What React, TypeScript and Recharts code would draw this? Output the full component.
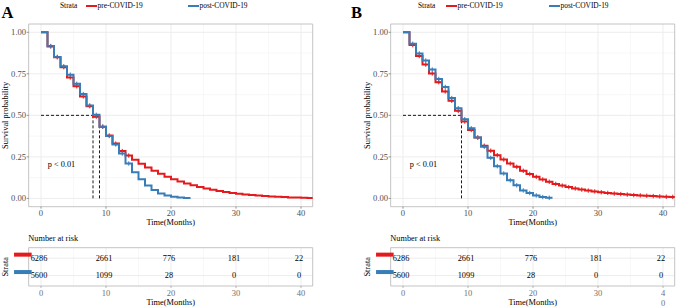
import React from 'react';
import {
  ComposedChart,
  Line,
  Scatter,
  XAxis,
  YAxis,
  CartesianGrid,
  ReferenceLine,
  ReferenceArea,
  ReferenceDot,
  Legend,
  Label,
} from 'recharts';

const FONT = '"Liberation Serif", "Times New Roman", serif';

// ---------- data ----------
const months = [0, 1, 2, 3, 4, 5, 6, 7, 8, 9, 10, 11, 12, 13, 14, 15, 16, 17, 18, 19, 20, 21, 22, 23, 24, 25, 26, 27, 28, 29, 30, 31, 32, 33, 34, 35, 36, 37, 38, 39, 40, 41, 42];

const preA = [1, 0.915, 0.85, 0.79, 0.728, 0.675, 0.614, 0.555, 0.492, 0.432, 0.378, 0.33, 0.285, 0.258, 0.232, 0.208, 0.186, 0.166, 0.148, 0.131, 0.116, 0.102, 0.09, 0.079, 0.069, 0.06, 0.052, 0.045, 0.039, 0.033, 0.028, 0.024, 0.02, 0.017, 0.014, 0.012, 0.01, 0.008, 0.006, 0.005, 0.004, 0.003, 0.003];
const postA = [1, 0.917, 0.852, 0.796, 0.745, 0.69, 0.628, 0.56, 0.503, 0.432, 0.376, 0.325, 0.27, 0.21, 0.158, 0.115, 0.078, 0.05, 0.03, 0.017, 0.01, 0.006, 0.003, 0.003];

const preB = [1, 0.923, 0.857, 0.806, 0.752, 0.7, 0.644, 0.588, 0.527, 0.463, 0.412, 0.366, 0.317, 0.287, 0.26, 0.234, 0.21, 0.19, 0.166, 0.147, 0.13, 0.114, 0.1, 0.087, 0.077, 0.068, 0.06, 0.053, 0.047, 0.042, 0.037, 0.033, 0.029, 0.026, 0.023, 0.02, 0.018, 0.016, 0.014, 0.012, 0.01, 0.009, 0.008];
const postB = [1, 0.931, 0.873, 0.83, 0.776, 0.719, 0.671, 0.604, 0.543, 0.477, 0.422, 0.366, 0.311, 0.244, 0.194, 0.15, 0.109, 0.079, 0.048, 0.032, 0.018, 0.008, 0.004, 0.004];

const censorMonthsA = [1, 2, 3, 4, 5, 6, 7, 8, 9, 10, 11, 12, 13];
const censorMonthsB = [1, 2, 3, 4, 5, 6, 7, 8, 9, 10, 11, 12, 13, 14, 15, 16, 17, 18, 19, 20, 21, 22, 23, 24, 25, 26, 27, 28, 29, 30, 31, 32, 33, 34, 35, 36, 37, 38, 39, 40, 41];

const riskTimes = [0, 10, 20, 30, 40];
const riskPre = [6286, 2661, 776, 181, 22];
const riskPost = [5600, 1099, 28, 0, 0];

const xTicks = [0, 10, 20, 30, 40];
const xMinor = [5, 15, 25, 35];
const yTicks = [0, 0.25, 0.5, 0.75, 1];
const yMinor = [0.125, 0.375, 0.625, 0.875];
const strataNames = ['pre-COVID-19', 'post-COVID-19'];
const strataColors = ['#E41A1C', '#377EB8'];
const pValueText = 'p < 0.01';
const pValueCoord = [3.15, 0.205];

// ---------- geometry ----------
const CHART_W = 320;
const PLOT_L = 28.65;
const PLOT_R = 312.7;
const X_DOMAIN: [number, number] = [-1.9, 41.8];
const Y_DOMAIN: [number, number] = [-0.05, 1.05];
const ROW_DOMAIN: [number, number] = [0.4, 2.6];

const GRID_MAJOR = '#EBEBEB';
const GRID_MINOR = '#F4F4F4';
const BORDER = '#BDBDBD';

function buildCurve(pre: number[], post: number[]) {
  return months
    .filter((_, i) => i < pre.length)
    .map((t, i) => ({ t, pre: pre[i], post: i < post.length ? post[i] : undefined }));
}

function buildCensor(arr: number[], times: number[]) {
  return times.filter((t) => t < arr.length - 1).map((t) => ({ t: t + 0.5, s: arr[t] }));
}

function median(arr: number[]) {
  const i = arr.findIndex((v) => v <= 0.5);
  return months[i];
}

function plusShape(color: string) {
  return (props: any) => {
    const { cx, cy } = props;
    if (cx == null || cy == null) return <g />;
    return (
      <path
        d={`M${cx - 2.2},${cy}H${cx + 2.2}M${cx},${cy - 2.2}V${cy + 2.2}`}
        stroke={color}
        strokeWidth={1}
        fill="none"
      />
    );
  };
}

function riskText(props: any) {
  const { cx, cy, payload } = props;
  if (cx == null || cy == null) return <g />;
  return (
    <text x={cx - 2} y={cy} textAnchor="middle" dominantBaseline="central" fontSize={8.3} fontFamily={FONT} fill="#000">
      {payload.n}
    </text>
  );
}

function strataBarTick(props: any) {
  const { x, y, payload } = props;
  const c = strataColors[Math.round(payload.value) - 1] || strataColors[0];
  return <rect x={x - 14.6} y={y - 5.5} width={17.6} height={4} fill={c} />;
}

function riskXTick(wrap: number[]) {
  return (props: any) => {
    const { x, y, payload } = props;
    const label = String(payload.value);
    if (wrap.includes(payload.value)) {
      return (
        <text x={x} y={y} textAnchor="middle" fontSize={8.5} fontFamily={FONT} fill="#707070">
          {label.split('').map((ch, i) => (
            <tspan key={i} x={x} dy={i === 0 ? '0.71em' : '1.18em'}>
              {ch}
            </tspan>
          ))}
        </text>
      );
    }
    return (
      <text x={x} y={y} dy="0.71em" textAnchor="middle" fontSize={8.5} fontFamily={FONT} fill="#707070">
        {label}
      </text>
    );
  };
}

function xTitle(text: string, dy: number) {
  return (props: any) => {
    const vb = props.viewBox || {};
    return (
      <text x={vb.x + vb.width / 2} y={vb.y + dy} textAnchor="middle" dominantBaseline="central" fontSize={8.4} fontFamily={FONT} fill="#000">
        {text}
      </text>
    );
  };
}

function yTitle(text: string, dx: number) {
  return (props: any) => {
    const vb = props.viewBox || {};
    const x = vb.x + dx;
    const y = vb.y + vb.height / 2;
    return (
      <text x={x} y={y} transform={`rotate(-90 ${x} ${y})`} textAnchor="middle" dominantBaseline="central" fontSize={8.4} fontFamily={FONT} fill="#000">
        {text}
      </text>
    );
  };
}

type LegendPos = { strata: number; keys: number[] };

function legendContent(pos: LegendPos) {
  return (props: any) => {
    const payload = props.payload || [];
    const items = strataNames.map((name, i) => {
      const found = payload.find((p: any) => p.value === name);
      return { value: name, color: found ? found.color : strataColors[i] };
    });
    return (
      <div style={{ position: 'relative', width: CHART_W, height: 12, fontFamily: FONT, fontSize: 7.4, lineHeight: '12px', color: '#000' }}>
        <span style={{ position: 'absolute', left: pos.strata, top: 0, whiteSpace: 'nowrap' }}>Strata</span>
        {items.map((p, i) => (
          <React.Fragment key={p.value}>
            <span style={{ position: 'absolute', left: pos.keys[i], top: 5, width: 10.5, height: 2, background: p.color }} />
            <span style={{ position: 'absolute', left: pos.keys[i] + 11.5, top: 0, whiteSpace: 'nowrap' }}>{p.value}</span>
          </React.Fragment>
        ))}
      </div>
    );
  };
}

type PanelProps = {
  ox: number;
  pre: number[];
  post: number[];
  censorTimes: number[];
  legendPos: LegendPos;
  wrapTicks: number[];
};

function Panel({ ox, pre, post, censorTimes, legendPos, wrapTicks }: PanelProps) {
  const data = buildCurve(pre, post);
  const censorPre = buildCensor(pre, censorTimes);
  const censorPost = buildCensor(post, censorTimes);
  const mPre = median(pre);
  const mPost = median(post);
  const mMax = Math.max(mPre, mPost);
  const medians = mPre === mPost ? [mPre] : [mPre, mPost];
  const riskPreRows = riskTimes.map((t, i) => ({ t, row: 1, n: riskPre[i] }));
  const riskPostRows = riskTimes.map((t, i) => ({ t, row: 2, n: riskPost[i] }));

  return (
    <>
      <div style={{ position: 'absolute', left: ox, top: 0, width: CHART_W, height: 232 }}>
        <ComposedChart
          width={CHART_W}
          height={232}
          data={data}
          margin={{ top: 24, right: CHART_W - PLOT_R, bottom: 0, left: 0 }}
        >
          <CartesianGrid verticalValues={xMinor} horizontalValues={yMinor} stroke={GRID_MINOR} strokeWidth={0.6} />
          <CartesianGrid verticalValues={xTicks} horizontalValues={yTicks} stroke={GRID_MAJOR} strokeWidth={0.9} />
          <ReferenceArea x1={X_DOMAIN[0]} x2={X_DOMAIN[1]} y1={Y_DOMAIN[0]} y2={Y_DOMAIN[1]} fill="none" stroke={BORDER} strokeWidth={0.9} ifOverflow="visible" />
          <XAxis
            type="number"
            dataKey="t"
            domain={X_DOMAIN}
            ticks={xTicks}
            interval={0}
            allowDataOverflow
            height={25.3}
            axisLine={false}
            tickSize={2}
            tickMargin={1.2}
            tickLine={{ stroke: '#4d4d4d', strokeWidth: 0.6 }}
            tick={{ fill: '#4d4d4d', fontSize: 8.6, fontFamily: FONT }}
          >
            <Label content={xTitle('Time(Months)', 16)} />
          </XAxis>
          <YAxis
            type="number"
            domain={Y_DOMAIN}
            ticks={yTicks}
            interval={0}
            allowDataOverflow
            width={PLOT_L}
            axisLine={false}
            tickSize={2}
            tickMargin={0.5}
            tickLine={{ stroke: '#4d4d4d', strokeWidth: 0.6 }}
            tick={{ fill: '#4d4d4d', fontSize: 8.6, fontFamily: FONT }}
            tickFormatter={(v: number) => v.toFixed(2)}
          >
            <Label content={yTitle('Survival probability', 6)} />
          </YAxis>
          <Legend
            verticalAlign="middle"
            align="center"
            layout="horizontal"
            wrapperStyle={{ top: 0, left: 0, width: CHART_W, height: 12 }}
            content={legendContent(legendPos)}
          />
          <ReferenceLine segment={[{ x: 0, y: 0.5 }, { x: mMax, y: 0.5 }]} stroke="#000" strokeDasharray="3 2" strokeWidth={0.9} />
          {medians.map((m) => (
            <ReferenceLine key={m} segment={[{ x: m, y: 0.5 }, { x: m, y: 0 }]} stroke="#000" strokeDasharray="3 2" strokeWidth={0.9} />
          ))}
          <Line
            type="stepAfter"
            dataKey="pre"
            name={strataNames[0]}
            stroke={strataColors[0]}
            strokeWidth={2}
            dot={false}
            isAnimationActive={false}
            legendType="line"
          />
          <Line
            type="stepAfter"
            dataKey="post"
            name={strataNames[1]}
            stroke={strataColors[1]}
            strokeWidth={2}
            dot={false}
            isAnimationActive={false}
            legendType="line"
          />
          <Scatter data={censorPre} dataKey="s" shape={plusShape(strataColors[0])} isAnimationActive={false} legendType="none" />
          <Scatter data={censorPost} dataKey="s" shape={plusShape(strataColors[1])} isAnimationActive={false} legendType="none" />
          <ReferenceDot
            x={pValueCoord[0]}
            y={pValueCoord[1]}
            r={0}
            fill="none"
            stroke="none"
            label={{ value: pValueText, position: 'center', fontSize: 8.3, fill: '#000', fontFamily: FONT }}
          />
        </ComposedChart>
      </div>

      <div style={{ position: 'absolute', left: ox, top: 230, width: CHART_W, height: 78 }}>
        <ComposedChart
          width={CHART_W}
          height={78}
          margin={{ top: 17.7, right: CHART_W - PLOT_R, bottom: 0, left: 0 }}
        >
          <CartesianGrid verticalValues={xMinor} horizontal={false} stroke={GRID_MINOR} strokeWidth={0.6} />
          <CartesianGrid verticalValues={xTicks} horizontalValues={[1, 2]} stroke={GRID_MAJOR} strokeWidth={0.9} />
          <ReferenceArea x1={X_DOMAIN[0]} x2={X_DOMAIN[1]} y1={ROW_DOMAIN[0]} y2={ROW_DOMAIN[1]} fill="none" stroke={BORDER} strokeWidth={0.9} ifOverflow="visible" />
          <XAxis
            type="number"
            dataKey="t"
            domain={X_DOMAIN}
            ticks={riskTimes}
            interval={0}
            allowDataOverflow
            height={22}
            axisLine={false}
            tickSize={2}
            tickMargin={2}
            tickLine={{ stroke: '#8a8a8a', strokeWidth: 0.6 }}
            tick={riskXTick(wrapTicks)}
          >
            <Label content={xTitle('Time(Months)', 16.3)} />
          </XAxis>
          <YAxis
            type="number"
            dataKey="row"
            domain={ROW_DOMAIN}
            reversed
            ticks={[1, 2]}
            interval={0}
            allowDataOverflow
            width={PLOT_L}
            axisLine={false}
            tickLine={false}
            tickSize={0}
            tickMargin={0}
            tick={strataBarTick}
          >
            <Label content={yTitle('Strata', 6)} />
          </YAxis>
          <Scatter data={riskPreRows} shape={riskText} isAnimationActive={false} />
          <Scatter data={riskPostRows} shape={riskText} isAnimationActive={false} />
        </ComposedChart>
      </div>
    </>
  );
}

export default function App() {
  return (
    <div
      style={{
        position: 'absolute',
        left: 0,
        top: 0,
        width: 676,
        height: 308,
        overflow: 'hidden',
        background: '#fff',
        fontFamily: FONT,
      }}
    >
      <Panel
        ox={0}
        pre={preA}
        post={postA}
        censorTimes={censorMonthsA}
        legendPos={{ strata: 60, keys: [86, 188] }}
        wrapTicks={[]}
      />
      <Panel
        ox={362}
        pre={preB}
        post={postB}
        censorTimes={censorMonthsB}
        legendPos={{ strata: 56, keys: [84, 187] }}
        wrapTicks={[40]}
      />
      <svg width={676} height={308} style={{ position: 'absolute', left: 0, top: 0, pointerEvents: 'none' }}>
        <text x={1.5} y={18.3} fontSize={16.5} fontWeight="bold" fontFamily={FONT} fill="#000">A</text>
        <text x={351} y={18.3} fontSize={16.5} fontWeight="bold" fontFamily={FONT} fill="#000">B</text>
        <text x={28.3} y={238.3} dominantBaseline="central" fontSize={8.3} fontFamily={FONT} fill="#000">Number at risk</text>
        <text x={390.3} y={238.3} dominantBaseline="central" fontSize={8.3} fontFamily={FONT} fill="#000">Number at risk</text>
      </svg>
    </div>
  );
}
